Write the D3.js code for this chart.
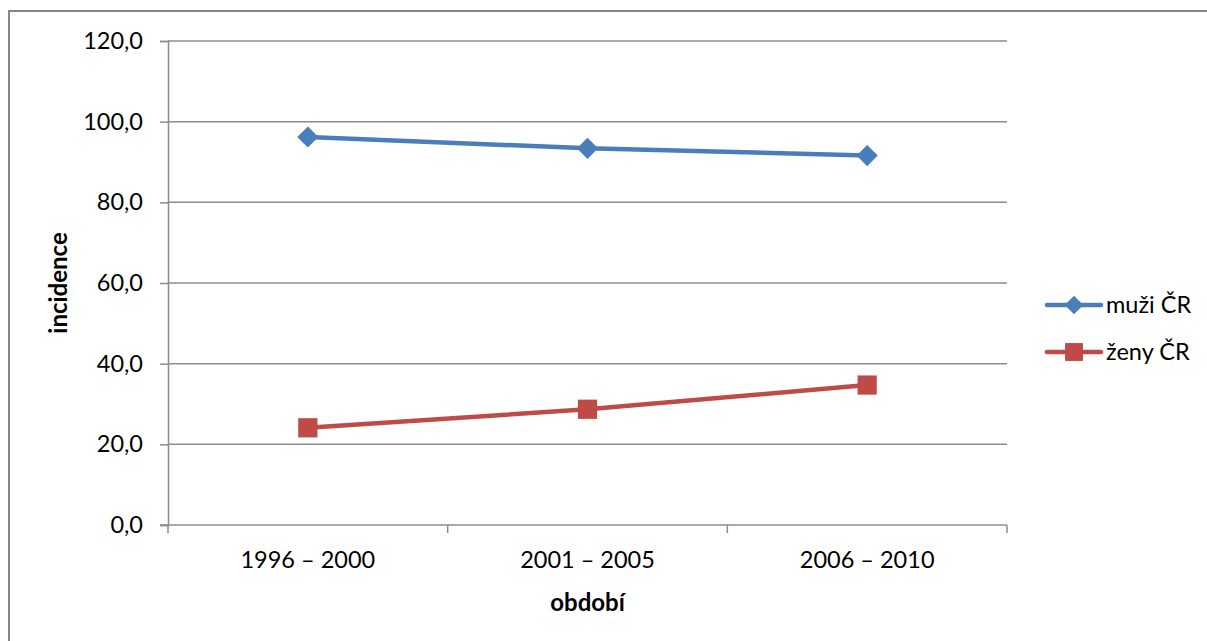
<!DOCTYPE html>
<html>
<head>
<meta charset="utf-8">
<script src="https://cdn.jsdelivr.net/npm/d3@7"></script>
<style>
  html, body { margin: 0; padding: 0; background: #ffffff; }
  svg { display: block; }
  text { font-family: "Lato", "Open Sans", sans-serif; fill: #000; }
</style>
</head>
<body>
<svg id="chart" width="1207" height="641"></svg>
<script>
// Incidence by period, men and women (ČR)
const categories = ["1996 – 2000", "2001 – 2005", "2006 – 2010"];
const muzi = [96.2, 93.4, 91.6];
const zeny = [24.1, 28.7, 34.7];
const yTicks = [0, 20, 40, 60, 80, 100, 120];
const seriesNames = ["muži ČR", "ženy ČR"];
const seriesColors = ["#4a7ebb", "#be4b48"];

const svg = d3.select("#chart");
const plot = { left: 168, right: 1007, top: 41, bottom: 525 };
const gridColor = "#8c8c8c";
const labelSize = 23.5;
const titleSize = 24;

// Outer chart frame (only top and left edges fall inside the view)
svg.append("rect")
  .attr("x", 9).attr("y", 11)
  .attr("width", 1300).attr("height", 700)
  .attr("fill", "none").attr("stroke", "#878787").attr("stroke-width", 2);

const x = d3.scaleBand().domain(categories).range([plot.left, plot.right]).padding(0);
const y = d3.scaleLinear().domain([0, 120]).range([plot.bottom, plot.top]);
const fmt = v => d3.format(".1f")(v).replace(".", ",");

// Horizontal gridlines
svg.append("g").selectAll("line")
  .data(yTicks.filter(d => d > 0))
  .join("line")
  .attr("x1", plot.left).attr("x2", plot.right)
  .attr("y1", d => y(d)).attr("y2", d => y(d))
  .attr("stroke", gridColor).attr("stroke-width", 1.5);

// Y axis
const yAxis = svg.append("g")
  .attr("transform", `translate(${plot.left},0)`)
  .call(d3.axisLeft(y).tickValues(yTicks).tickFormat(fmt).tickSize(8).tickPadding(17));
yAxis.select(".domain").attr("stroke", gridColor).attr("stroke-width", 1.5);
yAxis.selectAll(".tick line").attr("stroke", gridColor).attr("stroke-width", 1.5);
yAxis.selectAll(".tick text").attr("font-size", labelSize).attr("font-family", "Lato, 'Open Sans', sans-serif").attr("fill", "#000");

// X axis with tick marks at category boundaries
const xAxis = svg.append("g")
  .attr("transform", `translate(0,${plot.bottom})`);
xAxis.append("line")
  .attr("x1", plot.left - 8).attr("x2", plot.right)
  .attr("stroke", gridColor).attr("stroke-width", 1.5);
const boundaries = categories.map(c => x(c)).concat([x(categories[categories.length - 1]) + x.bandwidth()]);
xAxis.selectAll("line.tick")
  .data(boundaries)
  .join("line")
  .attr("class", "tick")
  .attr("x1", d => d).attr("x2", d => d)
  .attr("y1", 0).attr("y2", 8)
  .attr("stroke", gridColor).attr("stroke-width", 1.5);
xAxis.selectAll("text")
  .data(categories)
  .join("text")
  .attr("x", d => x(d) + x.bandwidth() / 2)
  .attr("y", 43)
  .attr("text-anchor", "middle")
  .attr("font-size", labelSize)
  .text(d => d);

// Axis titles
svg.append("text")
  .attr("x", (plot.left + plot.right) / 2).attr("y", 611)
  .attr("text-anchor", "middle").attr("font-size", titleSize).attr("font-weight", "bold")
  .text("období");
svg.append("text")
  .attr("transform", `translate(67,${(plot.top + plot.bottom) / 2}) rotate(-90)`)
  .attr("text-anchor", "middle").attr("font-size", titleSize).attr("font-weight", "bold")
  .text("incidence");

const cx = d => x(d) + x.bandwidth() / 2;
const line = d3.line().x(d => cx(d.c)).y(d => y(d.v));
const series = [
  { name: seriesNames[0], color: seriesColors[0], values: muzi, diamond: true },
  { name: seriesNames[1], color: seriesColors[1], values: zeny, diamond: false }
];

// Markers: diamonds are squares turned by 45°
const marker = (s, size) => d3.symbol().type(d3.symbolSquare).size(size)();
const rot = s => (s.diamond ? " rotate(45)" : "");

series.forEach(s => {
  const pts = categories.map((c, i) => ({ c, v: s.values[i] }));
  svg.append("path")
    .datum(pts)
    .attr("d", line)
    .attr("fill", "none").attr("stroke", s.color)
    .attr("stroke-width", 4.5).attr("stroke-linejoin", "round").attr("stroke-linecap", "round");
  const symSize = s.diamond ? 225 : 370;
  svg.append("g").selectAll("path")
    .data(pts)
    .join("path")
    .attr("transform", d => `translate(${cx(d.c)},${y(d.v)})${rot(s)}`)
    .attr("d", marker(s, symSize))
    .attr("fill", s.color);
});

// Legend
const legend = svg.append("g").attr("transform", "translate(1047,0)");
const legendY = [305, 352];
series.forEach((s, i) => {
  const g = legend.append("g").attr("transform", `translate(0,${legendY[i]})`);
  g.append("line").attr("x1", 0).attr("x2", 54)
    .attr("stroke", s.color).attr("stroke-width", 4.5).attr("stroke-linecap", "round");
  g.append("path")
    .attr("transform", `translate(27,0)${rot(s)}`)
    .attr("d", marker(s, s.diamond ? 170 : 320))
    .attr("fill", s.color);
  g.append("text").attr("x", 59).attr("y", 8).attr("font-size", labelSize).text(s.name);
});
</script>
</body>
</html>
